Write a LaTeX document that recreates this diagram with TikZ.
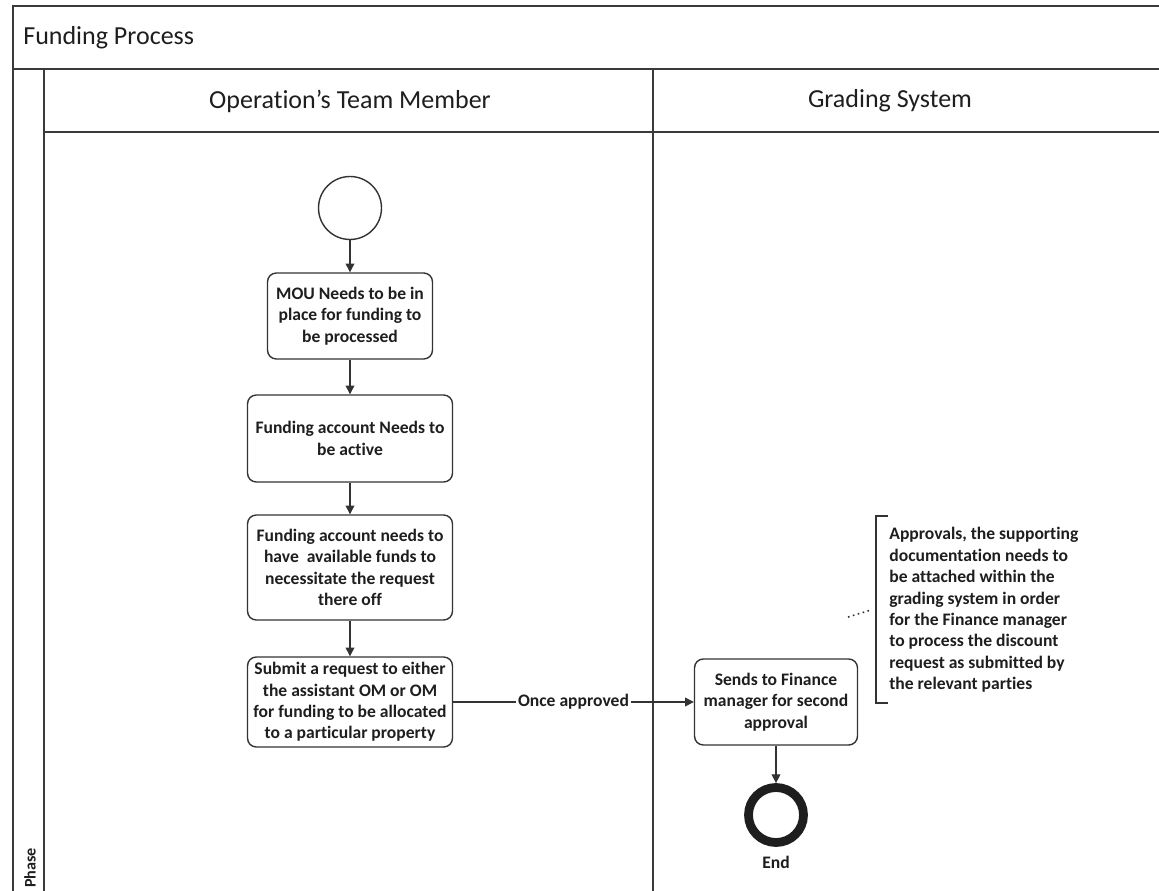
\documentclass[tikz,border=0pt]{standalone}
\usepackage{fontspec}
\setmainfont{Carlito}[Ligatures={NoCommon}]
\usetikzlibrary{arrows.meta,calc}
\definecolor{ink}{HTML}{1E1E1E}
\definecolor{linegray}{HTML}{3A3A3A}
\definecolor{boxgray}{HTML}{333333}
\begin{document}
\begin{tikzpicture}[x=0.02cm,y=-0.02cm,
  lane/.style={draw=linegray, line width=1pt},
  headtext/.style={text=ink, font=\fontsize{14.8}{18}\selectfont, inner sep=0pt},
  boldtext/.style={text=ink, font=\bfseries\fontsize{10}{12.2}\selectfont},
  task/.style={boldtext, draw=boxgray, line width=0.8pt, rounded corners=5pt,
    align=center, inner sep=1pt, fill=white},
  flow/.style={draw=boxgray, line width=0.7pt, -{Triangle[length=5pt,width=5pt]}},
]
\useasboundingbox (0,0) rectangle (1159,891);
\fill[white] (0,0) rectangle (1159,891);

% pool and lanes
\draw[lane] (1159,6) -- (13,6) -- (13,891);
\draw[lane] (13,69) -- (1159,69);
\draw[lane] (44,69) -- (44,891);
\draw[lane] (44,132) -- (1159,132);
\draw[lane] (653,69) -- (653,891);

\node[headtext, anchor=west] (title) at (23,38) {Funding Process};
\node[headtext] (laneA) at (350,101) {Operation’s Team Member};
\node[headtext] (laneB) at (890,101) {Grading System};
\node[boldtext, rotate=90, anchor=west, inner sep=1pt, font=\bfseries\fontsize{9.2}{11}\selectfont] (phase) at (30,890) {Phase};

% events and tasks
\node[circle, draw=boxgray, line width=0.8pt, minimum size=1.26cm, inner sep=0pt] (start) at (350,208) {};
\node[task, minimum width=3.3cm, minimum height=1.72cm] (b1) at (350,316)
  {MOU Needs to be in\\place for funding to\\be processed};
\node[task, minimum width=4.1cm, minimum height=1.74cm] (b2) at (350,438.5)
  {Funding account Needs to\\be active};
\node[task, minimum width=4.1cm, minimum height=2.1cm] (b3) at (350,567.5)
  {Funding account needs to\\have\ \ available funds to\\necessitate the request\\there off};
\node[task, minimum width=4.1cm, minimum height=1.8cm] (b4) at (350,702)
  {Submit a request to either\\the assistant OM or OM\\for funding to be allocated\\to a particular property};
\node[task, minimum width=3.26cm, minimum height=1.72cm] (b5) at (776,702)
  {Sends to Finance\\manager for second\\approval};
\node[circle, draw=ink, line width=5pt, minimum size=1.1cm, inner sep=0pt] (end) at (776,815) {};
\node[boldtext] (endlabel) at (776,862) {End};

% sequence flows
\draw[flow] (start) -- (b1);
\draw[flow] (b1) -- (b2);
\draw[flow] (b2) -- (b3);
\draw[flow] (b3) -- (b4);
\draw[flow] (b4) -- node[boldtext, fill=white, inner sep=1pt] (lbl) {Once approved} (b5);
\draw[flow] (b5) -- (end);

% annotation
\node[boldtext, anchor=west, align=left, inner sep=0pt] (note) at (889,610)
  {Approvals, the supporting\\documentation needs to\\be attached within the\\grading system in order\\for the Finance manager\\to process the discount\\request as submitted by\\the relevant parties};
\coordinate (brtop) at (876,516);
\coordinate (brbot) at (876,703);
\coordinate (brmid) at (876,610);
\draw[draw=boxgray, line width=0.8pt] ($(brtop)+(12,0)$) -- (brtop) -- (brbot) -- ($(brbot)+(12,0)$);
\coordinate (assoc) at (848,617);
\draw[draw=boxgray, line width=0.9pt, dotted] (assoc) -- ($(brmid)+(-5,0)$);
\end{tikzpicture}
\end{document}
